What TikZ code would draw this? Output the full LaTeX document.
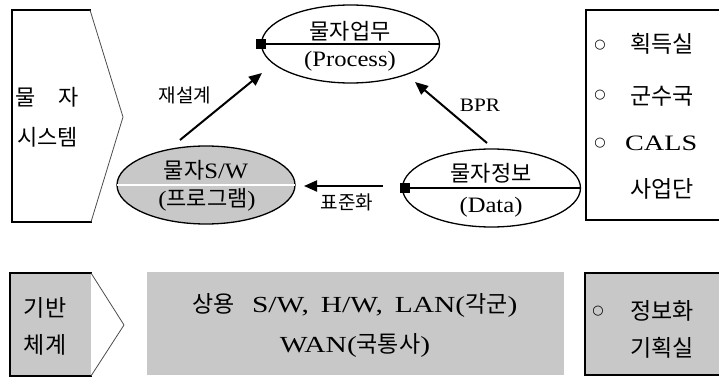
\documentclass[tikz,border=0pt]{standalone}
\usepackage{fontspec}
\setmainfont[FakeStretch=1.12]{Liberation Serif}
\newfontfamily\wide[FakeStretch=1.28]{Liberation Serif}
\newfontfamily\kr{Noto Sans CJK KR}
\newfontfamily\sym{DejaVu Sans}
\usetikzlibrary{shapes.geometric,arrows.meta}
\definecolor{panelgray}{RGB}{200,200,200}
\tikzset{
  frame/.style={line width=2.4pt, black, line cap=rect},
  chev/.style={line width=0.8pt, black!70},
  bubble/.style={ellipse, draw, line width=1.3pt, minimum width=178pt, minimum height=78pt, inner sep=0pt},
  pin/.style={fill=black, minimum size=10pt, inner sep=0pt},
  flow/.style={line width=2pt, -{Triangle[length=13pt,width=11pt]}},
  txt/.style={font=\fontsize{22}{26}\selectfont, inner sep=0pt},
  big/.style={font=\wide\fontsize{23}{27}\selectfont, inner sep=0pt},
  lbl/.style={font=\fontsize{19}{22}\selectfont, inner sep=0pt},
  dot/.style={font=\sym\fontsize{13}{13}\selectfont, inner sep=0pt}
}
\begin{document}
\begin{tikzpicture}[x=1pt, y=-1pt]
\useasboundingbox (0,0) rectangle (719,377);

% ---- upper panel: left chevron box
\draw[frame] (90,10) -- (12,10) -- (12,222) -- (91,222);
\draw[chev] (90,10) -- (123,117) -- (91,222);
\node[txt] (l1a) at (26,97) {\kr 물};
\node[txt] (l1b) at (69,97) {\kr 자};
\node[txt] (l2) at (47.5,137) {\kr 시스템};

% ---- upper panel: right box
\draw[frame] (730,10) -- (586,10) -- (586,220) -- (730,220);
\node[dot] (d1) at (600,45) {○};
\node[big, anchor=west] (r1) at (630,44) {\kr 획득실};
\node[dot] (d2) at (600,95) {○};
\node[big, anchor=west] (r2) at (630,96) {\kr 군수국};
\node[dot] (d3) at (600,143) {○};
\node[txt, font=\wide\fontsize{22}{26}\selectfont, anchor=west] (r3) at (625,143) {CALS};
\node[big, anchor=west] (r4) at (630,189) {\kr 사업단};

% ---- ellipses
\node[bubble] (proc) at (350.5,44) {};
\draw[line width=2pt] (proc.west) -- (proc.east);
\node[pin] (procpin) at ([xshift=0.5pt]proc.west) {};
\node[txt] (proct) at (350,31) {\kr 물자업무};
\node[txt] (procb) at (350,61) {(Process)};

\node[bubble, fill=panelgray] (sw) at (206,185) {};
\draw[line width=2pt, white] ([xshift=1pt]sw.west) -- ([xshift=-1pt]sw.east);
\node[txt] (swt) at (206,170) {{\kr 물자}S/W};
\node[txt] (swb) at (207,200) {({\kr 프로그램})};

\node[bubble] (data) at (491.5,188) {};
\draw[line width=2pt] (data.west) -- (data.east);
\node[pin] (datapin) at ([xshift=3pt]data.west) {};
\node[txt] (datat) at (491,173) {\kr 물자정보};
\node[txt] (datab) at (491,207) {(Data)};

% ---- connectors
\coordinate (swtop) at (180,140);
\coordinate (procsw) at (262,73);
\coordinate (datatop) at (487,143);
\coordinate (procdata) at (415,82);
\coordinate (datal) at (383,186);
\coordinate (swr) at (304,186);
\draw[flow] (swtop) -- (procsw);
\draw[flow] (datatop) -- (procdata);
\draw[flow] (datal) -- (swr);
\node[lbl] (k1) at (185,95) {\kr 재설계};
\node[lbl] (k2) at (480,105) {BPR};
\node[lbl] (k3) at (347,202) {\kr 표준화};

% ---- lower panel
\fill[panelgray] (10,273) rectangle (91,376);
\draw[frame] (91,273) -- (10,273) -- (10,376) -- (91,376);
\draw[chev] (91,273) -- (124,325) -- (91,376);
\node[big] (b1) at (45,308) {\kr 기반};
\node[big] (b2) at (45,345) {\kr 체계};

\fill[panelgray] (147,272) rectangle (564,375);
\node[big] (m1) at (355,305) {{\kr 상용}\hspace{17pt}S/W,\hspace{12pt}H/W,\hspace{12pt}LAN({\kr 각군})};
\node[big] (m2) at (355,345) {WAN({\kr 국통사})};

\fill[panelgray] (585,273) rectangle (730,375);
\draw[frame] (730,273) -- (585,273) -- (585,375) -- (730,375);
\node[dot] (d4) at (598,311) {○};
\node[big, anchor=west] (g1) at (630,311) {\kr 정보화};
\node[big, anchor=west] (g2) at (630,348) {\kr 기획실};
\end{tikzpicture}
\end{document}
